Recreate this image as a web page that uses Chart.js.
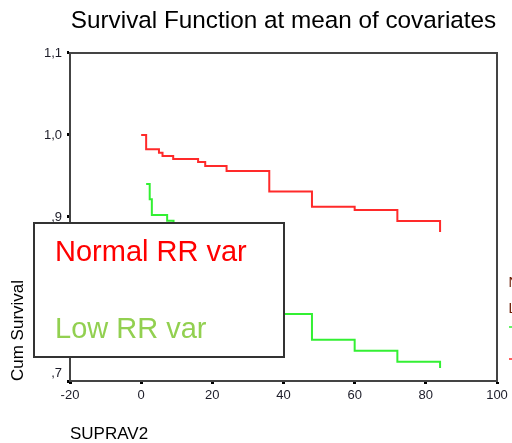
<!DOCTYPE html>
<html>
<head>
<meta charset="utf-8">
<script src="https://cdn.jsdelivr.net/npm/chart.js@4/dist/chart.umd.min.js"></script>
<style>
  html, body { margin: 0; padding: 0; background: #fff; }
  canvas { display: block; }
</style>
</head>
<body>
<canvas id="survChart" width="512" height="443"></canvas>
<script>
// --- DATA ---
const titleText = 'Survival Function at mean of covariates';
const xTitle = 'SUPRAV2';
const yTitle = 'Cum Survival';
const legendLabels = ['Normal RR var', 'Low RR var'];

// step times (SUPRAV2) and cum survival
const normalTimes = [0, 1.4, 5, 6, 9, 16, 18, 24, 36, 48, 60, 72, 84];
const normalSurv = [1.0, 0.9826, 0.9784, 0.9744, 0.9707, 0.967, 0.9622, 0.956, 0.931, 0.9126, 0.9085, 0.8951, 0.8817];

// the middle part of this curve sits under the legend box (estimated)
const lowTimes = [1.4, 2.4, 3.0, 7.3, 9.1, 16, 18, 24, 36, 48, 60, 72, 84];
const lowSurv = [0.9402, 0.9216, 0.9024, 0.8953, 0.862, 0.848, 0.836, 0.822, 0.7817, 0.7504, 0.737, 0.7235, 0.716];

const xTicks = [-20, 0, 20, 40, 60, 80, 100];
const yTicks = [0.7, 0.8, 0.9, 1.0, 1.1];

// --- STYLE ---
const FONT = "'Liberation Sans', Arial, sans-serif";
const RED = '#ff2a2a';
const GREEN = '#33f033';

const toPoints = (xs, ys) => xs.map((x, i) => ({ x: x, y: ys[i] }));

// SPSS style: white legend box over the plot, frame round the plot, clipped side legend
const decorPlugin = {
    id: 'decor',
    beforeDatasetsDraw(chart) {
        const { ctx, chartArea: a } = chart;
        ctx.save();
        ctx.strokeStyle = '#444';
        ctx.lineWidth = 2;
        ctx.beginPath();
        ctx.moveTo(a.left, a.top);
        ctx.lineTo(a.right, a.top);
        ctx.lineTo(a.right, a.bottom);
        ctx.stroke();
        ctx.restore();
    },
    afterDraw(chart) {
        const { ctx } = chart;
        ctx.save();
        // legend box
        ctx.fillStyle = '#fff';
        ctx.fillRect(34, 223, 250, 134);
        ctx.strokeStyle = '#333';
        ctx.lineWidth = 2;
        ctx.strokeRect(34, 223, 250, 134);
        ctx.font = '29px ' + FONT;
        ctx.textBaseline = 'alphabetic';
        ctx.fillStyle = '#ff0000';
        ctx.fillText(legendLabels[0], 55, 261);
        ctx.fillStyle = '#92d050';
        ctx.fillText(legendLabels[1], 55, 338);

        // side legend, cut off by the picture edge
        ctx.font = '14px ' + FONT;
        ctx.fillStyle = '#6b1a00';
        ctx.fillText('Normal', 508.5, 287);
        ctx.fillText('Low', 508.5, 313);
        ctx.lineWidth = 1.5;
        ctx.strokeStyle = GREEN;
        ctx.beginPath(); ctx.moveTo(509, 327); ctx.lineTo(520, 327); ctx.stroke();
        ctx.strokeStyle = RED;
        ctx.beginPath(); ctx.moveTo(509, 359); ctx.lineTo(520, 359); ctx.stroke();
        ctx.restore();
    }
};

function fmtY(v) {
    const s = v.toFixed(1).replace('.', ',');
    const lbl = s.startsWith('0') ? s.slice(1) : s;
    // bottom label sits a little above its tick
    return Math.abs(v - 0.7) < 1e-6 ? [lbl, ''] : lbl;
}

new Chart(document.getElementById('survChart').getContext('2d'), {
    type: 'line',
    data: {
        datasets: [
            { label: legendLabels[0], data: toPoints(normalTimes, normalSurv), borderColor: RED, borderWidth: 2, pointRadius: 0, stepped: 'before', fill: false },
            { label: legendLabels[1], data: toPoints(lowTimes, lowSurv), borderColor: GREEN, borderWidth: 2, pointRadius: 0, stepped: 'before', fill: false }
        ]
    },
    options: {
        responsive: false,
        animation: false,
        devicePixelRatio: 1,
        layout: { padding: { left: 0, right: 15, top: 0, bottom: 0 } },
        plugins: {
            legend: { display: false },
            tooltip: { enabled: false },
            title: {
                display: true,
                text: titleText,
                color: '#000',
                fullSize: false,
                align: 'center',
                font: { family: FONT, size: 24.3, weight: 'normal', lineHeight: 1.2 },
                padding: { top: 6.4, bottom: 17.4 }
            }
        },
        scales: {
            x: {
                type: 'linear',
                min: xTicks[0],
                max: xTicks[xTicks.length - 1],
                afterBuildTicks: s => { s.ticks = xTicks.map(v => ({ value: v })); },
                afterFit: s => { s.height = 62; },
                ticks: { color: '#1c1c28', padding: 4, maxRotation: 0, font: { family: FONT, size: 13 } },
                grid: { drawOnChartArea: false, color: '#000', tickLength: 3, tickWidth: 3 },
                border: { color: '#444', width: 2 },
                title: {
                    display: true, text: xTitle, align: 'start', color: '#000',
                    font: { family: FONT, size: 17, lineHeight: 1 }, padding: 0
                }
            },
            y: {
                type: 'linear',
                min: yTicks[0],
                max: yTicks[yTicks.length - 1],
                afterBuildTicks: s => { s.ticks = yTicks.map(v => ({ value: v })); },
                afterFit: s => { s.width = 70; },
                ticks: { color: '#1c1c28', padding: 5, callback: v => fmtY(v), font: { family: FONT, size: 13 } },
                grid: { drawOnChartArea: false, color: '#000', tickLength: 3, tickWidth: 3 },
                border: { color: '#444', width: 2 },
                title: {
                    display: true, text: yTitle, align: 'start', color: '#000',
                    font: { family: FONT, size: 17, lineHeight: 1 }, padding: { top: 10, bottom: 0 }
                }
            }
        }
    },
    plugins: [decorPlugin]
});
</script>
</body>
</html>
